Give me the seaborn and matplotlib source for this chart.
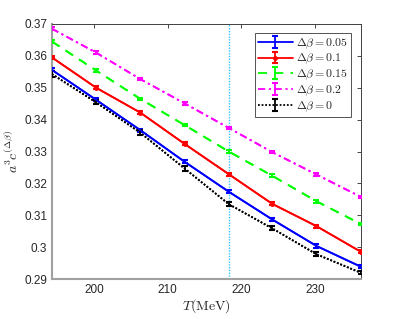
import numpy as np
import pandas as pd
import matplotlib
matplotlib.use("Agg")
import matplotlib.pyplot as plt
import seaborn as sns

T = [194.3, 200.3, 206.3, 212.3, 218.3, 224.2, 230.2, 236.2]
y005 = [0.3556, 0.3462, 0.3367, 0.3268, 0.3174, 0.3087, 0.3004, 0.2939]
y010 = [0.3595, 0.3500, 0.3422, 0.3324, 0.3229, 0.3136, 0.3066, 0.2986]
y015 = [0.3645, 0.3554, 0.3465, 0.3383, 0.3300, 0.3224, 0.3144, 0.3073]
y020 = [0.3685, 0.3610, 0.3527, 0.3451, 0.3374, 0.3298, 0.3228, 0.3158]
y000 = [0.3543, 0.3454, 0.3359, 0.3247, 0.3135, 0.3059, 0.2978, 0.2920]
e005 = [0.0005] * 8
e010 = [0.0005] * 8
e015 = [0.0004] * 8
e020 = [0.0004] * 8
e000 = [0.0008, 0.0006, 0.0007, 0.0008, 0.0007, 0.0006, 0.0006, 0.0005]
T_line = 218.3
labels = [r'$\Delta\beta=0.05$', r'$\Delta\beta=0.1$', r'$\Delta\beta=0.15$',
          r'$\Delta\beta=0.2$', r'$\Delta\beta=0$']
yticks = [0.29, 0.30, 0.31, 0.32, 0.33, 0.34, 0.35, 0.36, 0.37]
ytick_labels = ['0.29', '0.3', '0.31', '0.32', '0.33', '0.34', '0.35', '0.36', '0.37']
xticks = [200, 210, 220, 230]

sns.set_style('white')
plt.rcParams['font.family'] = ['Liberation Sans', 'DejaVu Sans']
plt.rcParams['mathtext.fontset'] = 'cm'

fig = plt.figure(figsize=(3.99, 3.19), dpi=100)
ax = fig.add_axes([0.130, 0.125, 0.774, 0.800])

series = [(y005, e005, '#0000ff', '-', None),
          (y010, e010, '#ff0000', '-', '.'),
          (y015, e015, '#00ff00', (0, (5, 4)), None),
          (y020, e020, '#ff00ff', (0, (4, 2, 1.2, 2)), None),
          (y000, e000, '#000000', (0, (1, 1)), None)]

ax.axvline(T_line, color='#33c4ff', ls=(0, (1, 1)), lw=1.0, zorder=1)

for (ys, es, c, ls, mk), lab in zip(series, labels):
    df = pd.DataFrame({'T': T, 'v': ys})
    sns.lineplot(data=df, x='T', y='v', color=c, linestyle=ls, lw=1.3, ax=ax,
                 legend=False, zorder=3)
    ax.errorbar(T, ys, yerr=es, color=c, linestyle=ls, lw=1.3, marker=mk,
                markersize=5, capsize=2.5, capthick=1.5, elinewidth=1.3,
                label=lab, zorder=3)

ax.set_xlim(194.3, 236.2)
ax.set_ylim(0.29, 0.37)
ax.set_xticks(xticks)
ax.set_yticks(yticks)
ax.set_yticklabels(ytick_labels)
ax.tick_params(direction='in', length=3, width=0.6, labelsize=8.5,
               colors='#262626', top=True, right=True)
ax.set_xlabel(r'$T\mathrm{(MeV)}$', fontsize=10, labelpad=1)
ax.set_ylabel(r'$a^3c^{(\Delta\beta)}$', fontsize=10, labelpad=2)
for s in ['left', 'bottom']:
    ax.spines[s].set_color('#a0a0a0')
    ax.spines[s].set_linewidth(1.5)
for s in ['top', 'right']:
    ax.spines[s].set_color('#404040')
    ax.spines[s].set_linewidth(0.7)

leg = ax.legend(loc='upper right', fontsize=8.5, frameon=True, fancybox=False,
                borderpad=0.25, labelspacing=0.12, handlelength=2.9,
                handletextpad=0.3, borderaxespad=0.8)
leg.get_frame().set_edgecolor('#262626')
leg.get_frame().set_linewidth(0.7)

fig.savefig('out.png', dpi=100)
